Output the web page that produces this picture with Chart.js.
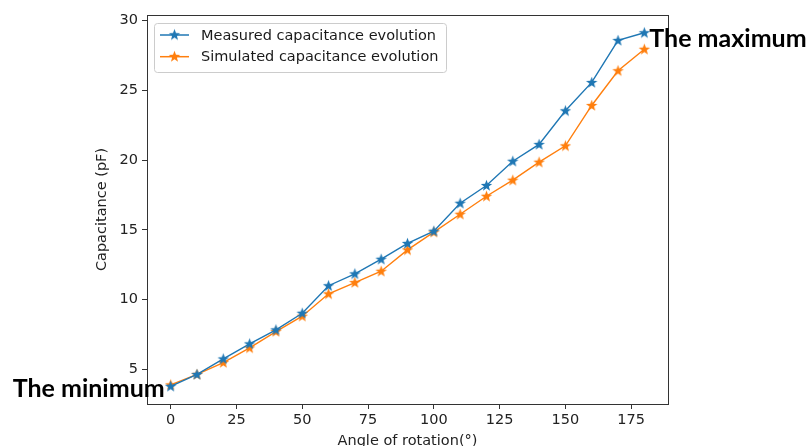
<!DOCTYPE html>
<html>
<head>
<meta charset="utf-8">
<script src="https://cdn.jsdelivr.net/npm/chart.js@4/dist/chart.umd.min.js"></script>
<style>
  html, body { margin: 0; padding: 0; background: #fff; }
  #wrap { width: 806px; height: 446px; }
</style>
</head>
<body>
<div id="wrap"><canvas id="capChart" width="806" height="446"></canvas></div>
<script>
// capacitance vs rotation angle, measured and simulated
var angles = [0, 10, 20, 30, 40, 50, 60, 70, 80, 90, 100, 110, 120, 130, 140, 150, 160, 170, 180];
var measured = [3.8, 4.65, 5.76, 6.84, 7.84, 9.03, 11.0, 11.85, 12.9, 14.03, 14.91, 16.91, 18.18, 19.92, 21.12, 23.53, 25.56, 28.57, 29.12];
var simulated = [3.9, 4.65, 5.5, 6.55, 7.72, 8.82, 10.42, 11.23, 12.04, 13.57, 14.84, 16.12, 17.41, 18.56, 19.85, 21.02, 23.91, 26.4, 27.94];
var xTicks = [0, 25, 50, 75, 100, 125, 150, 175];
var yTicks = [5, 10, 15, 20, 25, 30];
var seriesNames = ["Measured capacitance evolution", "Simulated capacitance evolution"];
var seriesColors = ["#1f77b4", "#ff7f0e"];

var tickFont = { family: "'DejaVu Sans'", size: 14.5 };

// filled five point star, like matplotlib's '*' marker
function makeStar(color) {
	var c = document.createElement("canvas");
	c.width = 13;
	c.height = 13;
	var g = c.getContext("2d");
	var cx = 6.5, cy = 6.8, ro = 6, ri = 2.5;
	g.beginPath();
	for (var i = 0; i < 10; i++) {
		var r = (i % 2 === 0) ? ro : ri;
		var a = -Math.PI / 2 + i * Math.PI / 5;
		var px = cx + r * Math.cos(a);
		var py = cy + r * Math.sin(a);
		if (i === 0) g.moveTo(px, py); else g.lineTo(px, py);
	}
	g.closePath();
	g.fillStyle = color;
	g.fill();
	return c;
}
var stars = seriesColors.map(makeStar);

function toPoints(ys) {
	return angles.map(function (a, i) { return { x: a, y: ys[i] }; });
}

// axes frame on all four sides
var frame = {
	id: "frame",
	afterDatasetsDraw: function (chart) {
		var a = chart.chartArea, ctx = chart.ctx;
		ctx.save();
		ctx.strokeStyle = "#333";
		ctx.lineWidth = 1;
		ctx.strokeRect(Math.round(a.left) + 0.5, Math.round(a.top) + 0.5,
			Math.round(a.right - a.left), Math.round(a.bottom - a.top));
		ctx.restore();
	}
};

// boxed legend in the upper left corner of the plot
var boxLegend = {
	id: "boxLegend",
	afterDatasetsDraw: function (chart) {
		var a = chart.chartArea, ctx = chart.ctx;
		var x = a.left + 7, y = a.top + 8, w = 292, h = 49;
		ctx.save();
		ctx.beginPath();
		ctx.roundRect(x + 0.5, y + 0.5, w, h, 3);
		ctx.fillStyle = "rgba(255,255,255,0.8)";
		ctx.fill();
		ctx.strokeStyle = "#cccccc";
		ctx.lineWidth = 1;
		ctx.stroke();
		ctx.font = "14.5px 'DejaVu Sans'";
		ctx.textBaseline = "middle";
		seriesNames.forEach(function (name, i) {
			var ry = y + 12 + i * 21.7;
			ctx.strokeStyle = seriesColors[i];
			ctx.lineWidth = 1.5;
			ctx.beginPath();
			ctx.moveTo(x + 6, ry);
			ctx.lineTo(x + 35, ry);
			ctx.stroke();
			ctx.drawImage(stars[i], x + 20.5 - 6.5, ry - 6.8);
			ctx.fillStyle = "#1a1a1a";
			ctx.fillText(name, x + 47, ry + 1);
		});
		ctx.restore();
	}
};

// notes beside the largest and smallest measured values
var extremes = {
	id: "extremes",
	afterDraw: function (chart) {
		var xs = chart.scales.x, ys = chart.scales.y, ctx = chart.ctx;
		var iMax = measured.indexOf(Math.max.apply(null, measured));
		var iMin = measured.indexOf(Math.min.apply(null, measured));
		ctx.save();
		ctx.font = "bold 25px Lato";
		ctx.fillStyle = "#000";
		ctx.textBaseline = "alphabetic";
		ctx.textAlign = "left";
		ctx.fillText("The maximum", xs.getPixelForValue(angles[iMax]) + 5, ys.getPixelForValue(measured[iMax]) + 14.5);
		ctx.textAlign = "right";
		ctx.fillText("The minimum", xs.getPixelForValue(angles[iMin]) - 6, ys.getPixelForValue(measured[iMin]) + 10.5);
		ctx.restore();
	}
};

var ctx = document.getElementById("capChart");

var data = {
	datasets: [0, 1].map(function (i) {
		return {
			label: seriesNames[i],
			data: toPoints(i === 0 ? measured : simulated),
			borderColor: seriesColors[i],
			backgroundColor: seriesColors[i],
			borderWidth: 1.4,
			pointStyle: stars[i],
			pointRadius: 6,
			tension: 0,
			fill: false
		};
	})
};

var options = {
	responsive: false,
	animation: false,
	layout: { padding: { left: 88, top: 15, right: 138, bottom: 0 } },
	plugins: {
		legend: { display: false },
		tooltip: { enabled: false }
	},
	scales: {
		x: {
			type: "linear",
			min: -9,
			max: 189,
			afterFit: function (s) { s.height = 42; },
			afterBuildTicks: function (s) { s.ticks = xTicks.map(function (v) { return { value: v }; }); },
			grid: { drawOnChartArea: false, drawTicks: true, tickLength: 5, color: "#333" },
			border: { display: false },
			ticks: { font: tickFont, color: "#222", padding: 3, maxRotation: 0 },
			title: {
				display: true,
				text: "Angle of rotation(°)",
				font: tickFont,
				color: "#222",
				padding: { top: 0, bottom: -3.5 }
			}
		},
		y: {
			type: "linear",
			min: 2.53,
			max: 30.39,
			afterFit: function (s) { s.width = 59; },
			afterBuildTicks: function (s) { s.ticks = yTicks.map(function (v) { return { value: v }; }); },
			grid: { drawOnChartArea: false, drawTicks: true, tickLength: 5, color: "#333" },
			border: { display: false },
			ticks: { font: tickFont, color: "#222", padding: 4 },
			title: {
				display: true,
				text: "Capacitance (pF)",
				font: tickFont,
				color: "#222",
				padding: { top: 6, bottom: 0 }
			}
		}
	}
};

var chart = new Chart(ctx, {
	type: "line",
	data: data,
	options: options,
	plugins: [frame, boxLegend, extremes]
});
</script>
</body>
</html>
